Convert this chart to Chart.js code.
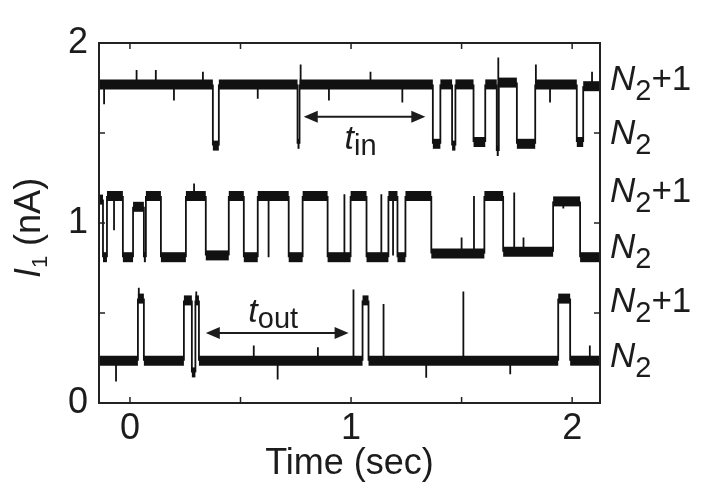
<!DOCTYPE html>
<html lang="en">
<head>
<meta charset="UTF-8" />
<title>Random telegraph signal</title>
<script src="https://cdn.jsdelivr.net/npm/chart.js"></script>
<style>
  html, body { margin: 0; padding: 0; background: #fff; }
  #wrap { width: 708px; height: 499px; }
</style>
</head>
<body>
<div id="wrap"><canvas id="chart"></canvas></div>
<script>
// each trace is a list of switch times (sec) and the current level (nA) held until the next switch
const topT = [-0.14, 0.375, 0.402, 0.758, 0.767, 1.370, 1.404, 1.457, 1.472, 1.554, 1.607, 1.659, 1.668, 1.750, 1.833, 2.021, 2.050, 2.126];
const topV = [1.77, 1.43, 1.77, 1.44, 1.77, 1.44, 1.77, 1.43, 1.77, 1.45, 1.77, 1.40, 1.78, 1.44, 1.77, 1.45, 1.76];

const midT = [-0.14, -0.122, -0.104, -0.032, 0.014, 0.063, 0.072, 0.140, 0.253, 0.343, 0.447, 0.515, 0.578, 0.718, 0.781, 0.894, 0.998, 1.070, 1.169, 1.210, 1.246, 1.363, 1.603, 1.688, 1.914, 2.036, 2.126];
const midV = [1.13, 0.81, 1.15, 0.81, 1.09, 0.81, 1.15, 0.81, 1.15, 0.82, 1.15, 0.81, 1.15, 0.81, 1.15, 0.81, 1.15, 0.81, 1.15, 0.81, 1.15, 0.83, 1.15, 0.84, 1.12, 0.81];

const botT = [-0.14, 0.036, 0.063, 0.244, 0.280, 0.296, 0.312, 1.052, 1.079, 1.937, 1.991, 2.126];
const botV = [0.235, 0.58, 0.235, 0.57, 0.17, 0.57, 0.235, 0.57, 0.235, 0.58, 0.235];

// short spikes (time, tip value) sitting on the trace
const topSpikeT = [-0.117, 0.030, 0.117, 0.199, 0.330, 0.578, 0.772, 0.900, 1.088, 1.232, 1.666, 1.836, 1.900, 2.090];
const topSpikeV = [1.66, 1.85, 1.85, 1.68, 1.84, 1.69, 1.88, 1.68, 1.84, 1.67, 1.92, 1.88, 1.67, 1.84];
const midSpikeT = [-0.072, 0.290, 0.627, 0.970, 1.137, 1.190, 1.500, 1.556, 1.738, 1.780, 1.960];
const midSpikeV = [0.96, 1.22, 0.81, 1.16, 1.16, 0.82, 0.92, 1.15, 1.17, 0.92, 1.08];
const botSpikeT = [-0.063, 0.040, 0.300, 0.560, 0.668, 0.850, 1.011, 1.147, 1.340, 1.508, 1.720, 2.080];
const botSpikeV = [0.12, 0.64, 0.62, 0.32, 0.13, 0.31, 0.63, 0.55, 0.14, 0.62, 0.16, 0.32];

// dwell time arrows
const arrowNames = ['in', 'out'];
const arrowFrom = [0.786, 0.343];
const arrowTo = [1.336, 0.989];
const arrowAt = [1.59, 0.389];

// level names on the right
const levelSuffix = ['+1', '', '+1', '', '+1', ''];
const levelAt = [1.808, 1.503, 1.186, 0.875, 0.575, 0.264];

const xTicks = [0, 1, 2];
const yTicks = [0, 1, 2];
const xMinor = [0, 0.5, 1, 1.5, 2];
const yMinor = [0.5, 1, 1.5];

const FONT = '"Liberation Sans", Arial, sans-serif';
const INK = '#1c1c1c';

function steps(T, V) {
  const pts = [];
  for (let i = 0; i < V.length; i++) {
    pts.push({x: T[i], y: V[i]});
    pts.push({x: T[i + 1], y: V[i]});
  }
  return pts;
}

function levelAtTime(T, V, t) {
  for (let i = 0; i < V.length; i++) {
    if (t >= T[i] && t < T[i + 1]) return V[i];
  }
  return V[V.length - 1];
}

function spikes(T, V, st, sv) {
  const pts = [];
  st.forEach((t, i) => {
    pts.push({x: t, y: levelAtTime(T, V, t)});
    pts.push({x: t, y: sv[i]});
    pts.push({x: t, y: null});
  });
  return pts;
}

function traceSet(data) {
  return {
    data: data,
    borderColor: '#111',
    borderWidth: 1.8,
    pointRadius: 0,
    tension: 0,
    spanGaps: false,
    segment: {
      // flat stretches carry the noise band, switches are thin
      borderWidth: c => Math.abs(c.p0.y - c.p1.y) > 0.5 ? 1.8 : 10
    }
  };
}

function spikeSet(data) {
  return {
    data: data,
    borderColor: '#111',
    borderWidth: 1.8,
    pointRadius: 0,
    spanGaps: false
  };
}

function fontStr(r) {
  return (r.italic ? 'italic ' : '') + r.size + 'px ' + FONT;
}

function richText(ctx, x, y, runs, align) {
  let w = 0;
  runs.forEach(r => { ctx.font = fontStr(r); r.w = ctx.measureText(r.text).width; w += r.w; });
  let cx = align === 'center' ? x - w / 2 : x;
  runs.forEach(r => {
    ctx.font = fontStr(r);
    ctx.fillText(r.text, cx, y + (r.dy || 0));
    cx += r.w;
  });
}

const decor = {
  id: 'decor',
  afterDatasetsDraw(chart) {
    const ctx = chart.ctx;
    const xs = chart.scales.x, ys = chart.scales.y;
    ctx.save();
    ctx.strokeStyle = INK;
    ctx.fillStyle = INK;
    ctx.lineWidth = 2;
    arrowNames.forEach((name, i) => {
      const x0 = xs.getPixelForValue(arrowFrom[i]);
      const x1 = xs.getPixelForValue(arrowTo[i]);
      const y = ys.getPixelForValue(arrowAt[i]);
      ctx.beginPath();
      ctx.moveTo(x0 + 8, y);
      ctx.lineTo(x1 - 8, y);
      ctx.stroke();
      [[x0, 1], [x1, -1]].forEach(([tip, dir]) => {
        ctx.beginPath();
        ctx.moveTo(tip, y);
        ctx.lineTo(tip + dir * 14, y - 6);
        ctx.lineTo(tip + dir * 14, y + 6);
        ctx.closePath();
        ctx.fill();
      });
      ctx.textBaseline = 'alphabetic';
      const cx = (x0 + x1) / 2;
      richText(ctx, cx - 4, y + (i === 0 ? 32 : -11), [
        {text: 't', italic: true, size: 34},
        {text: name, size: 29, dy: 6}
      ], 'center');
    });
    ctx.restore();
  },
  afterDraw(chart) {
    const ctx = chart.ctx;
    const a = chart.chartArea;
    const xs = chart.scales.x, ys = chart.scales.y;
    ctx.save();
    ctx.strokeStyle = '#222';
    ctx.lineWidth = 2;
    ctx.strokeRect(a.left, a.top, a.right - a.left, a.bottom - a.top);
    ctx.lineWidth = 1.5;
    ctx.beginPath();
    xMinor.forEach(v => {
      const x = xs.getPixelForValue(v);
      ctx.moveTo(x, a.bottom); ctx.lineTo(x, a.bottom - 6);
      ctx.moveTo(x, a.top); ctx.lineTo(x, a.top + 6);
    });
    yMinor.forEach(v => {
      const y = ys.getPixelForValue(v);
      ctx.moveTo(a.left, y); ctx.lineTo(a.left + 6, y);
      ctx.moveTo(a.right, y); ctx.lineTo(a.right - 6, y);
    });
    ctx.stroke();

    // level names
    ctx.fillStyle = INK;
    ctx.textBaseline = 'alphabetic';
    levelAt.forEach((v, i) => {
      const y = ys.getPixelForValue(v) + 12;
      richText(ctx, a.right + 10, y, [
        {text: 'N', italic: true, size: 35},
        {text: '2', size: 29, dy: 10},
        {text: levelSuffix[i], size: 35}
      ], 'left');
    });

    // y axis title
    ctx.translate(40, (a.top + a.bottom) / 2 + 5);
    ctx.rotate(-Math.PI / 2);
    richText(ctx, 0, 0, [
      {text: 'I', italic: true, size: 36},
      {text: '1', size: 22, dy: 7},
      {text: ' (nA)', size: 36}
    ], 'center');
    ctx.restore();
  }
};

new Chart(document.getElementById('chart').getContext('2d'), {
  type: 'line',
  data: {
    datasets: [
      traceSet(steps(topT, topV)),
      traceSet(steps(midT, midV)),
      traceSet(steps(botT, botV)),
      spikeSet(spikes(topT, topV, topSpikeT, topSpikeV)),
      spikeSet(spikes(midT, midV, midSpikeT, midSpikeV)),
      spikeSet(spikes(botT, botV, botSpikeT, botSpikeV))
    ]
  },
  options: {
    responsive: true,
    maintainAspectRatio: false,
    animation: false,
    layout: { padding: { left: 0, right: 108, top: 43, bottom: 0 } },
    plugins: { legend: { display: false }, tooltip: { enabled: false } },
    scales: {
      x: {
        type: 'linear',
        min: -0.14,
        max: 2.126,
        grid: { display: false, drawTicks: false },
        border: { display: false },
        afterBuildTicks: s => { s.ticks = xTicks.map(v => ({value: v})); },
        afterFit: s => { s.height = 96; },
        ticks: {
          padding: 4,
          color: INK,
          font: { family: FONT, size: 36 },
          maxRotation: 0,
          callback: v => String(v)
        },
        title: {
          display: true,
          text: 'Time (sec)',
          color: INK,
          font: { family: FONT, size: 36 },
          padding: { top: 0, bottom: 13 }
        }
      },
      y: {
        type: 'linear',
        min: 0,
        max: 2,
        grid: { display: false, drawTicks: false },
        border: { display: false },
        afterBuildTicks: s => { s.ticks = yTicks.map(v => ({value: v})); },
        afterFit: s => { s.width = 99; },
        ticks: {
          padding: 11,
          color: INK,
          font: { family: FONT, size: 36 },
          callback: v => String(v)
        }
      }
    }
  },
  plugins: [decor]
});
</script>
</body>
</html>
